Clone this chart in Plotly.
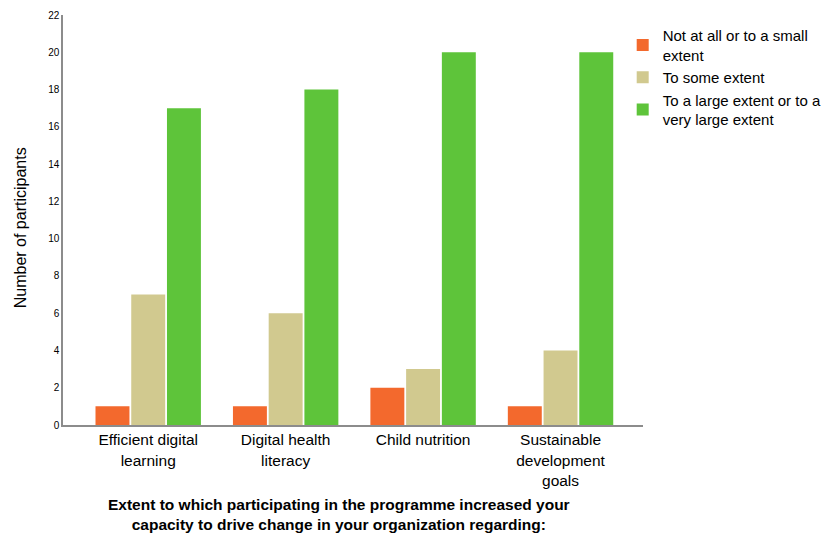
import plotly.graph_objects as go

categories = ["Efficient digital<br>learning", "Digital health<br>literacy", "Child nutrition", "Sustainable<br>development<br>goals"]
series_names = ["Not at all or to a small<br>extent", "To some extent", "To a large extent or to a<br>very large extent"]
not_at_all = [1, 1, 2, 1]
some_extent = [7, 6, 3, 4]
large_extent = [17, 18, 20, 20]
colors = ["#F3692D", "#D1C98F", "#5EC43A"]
y_ticks = list(range(0, 23, 2))

fig = go.Figure()
for name, vals, col in zip(series_names, [not_at_all, some_extent, large_extent], colors):
    fig.add_trace(go.Bar(x=list(range(len(categories))), y=vals, name=name,
                         marker=dict(color=col, line=dict(width=0))))

fig.update_layout(
    width=831, height=529,
    paper_bgcolor="white", plot_bgcolor="white",
    margin=dict(l=55, r=196, t=7, b=112),
    barmode="group", bargap=0.22, bargroupgap=0.05,
    font=dict(family="Arial, Liberation Sans", color="#000000"),
    legend=dict(x=0.965, xanchor="left", y=0.99, yanchor="top",
                font=dict(size=15, family="Arial, Liberation Sans"),
                itemwidth=30, tracegroupgap=0, bgcolor="rgba(0,0,0,0)"),
    xaxis=dict(tickmode="array", tickvals=list(range(len(categories))), ticktext=categories,
               range=[-0.62, 3.60], showline=True, linecolor="#8c8c8c", linewidth=1.5,
               ticks="", tickfont=dict(size=15.5), showgrid=False, zeroline=False, automargin=False),
    yaxis=dict(range=[0, 22], tickvals=y_ticks, showline=True, linecolor="#8c8c8c", linewidth=1.5,
               ticks="", tickfont=dict(size=10), showgrid=False, zeroline=False, automargin=False),
    annotations=[
        dict(text="<b>Extent to which participating in the programme increased your<br>capacity to drive change in your organization regarding:</b>",
             xref="paper", yref="paper", x=0.476, y=-0.168, xanchor="center", yanchor="top",
             showarrow=False, font=dict(size=15.5)),
        dict(text="Number of participants", textangle=-90,
             xref="paper", yref="paper", x=-0.074, y=0.48, xanchor="center", yanchor="middle",
             showarrow=False, font=dict(size=16)),
    ],
)

fig.write_html("out.html")
